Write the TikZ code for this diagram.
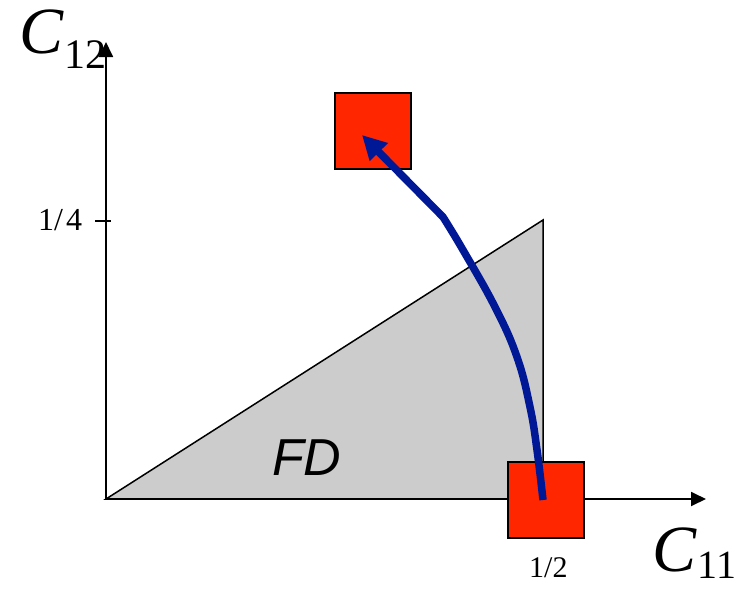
\documentclass[tikz,border=0pt]{standalone}
\usepackage{fontspec}
\setmainfont{Liberation Serif}
\newfontfamily\arialfont{Liberation Sans}
\usetikzlibrary{arrows.meta}
\definecolor{sqred}{RGB}{255,38,0}
\definecolor{pathblue}{RGB}{0,24,150}
\definecolor{fdgray}{RGB}{204,204,204}
\tikzset{
  axis/.style={line width=1.8pt,-{Triangle[length=15pt,width=14pt]}},
  sq/.style={draw=black,line width=2pt,fill=sqred,minimum width=76pt,minimum height=76pt,inner sep=0pt,outer sep=0pt},
  lbl/.style={inner sep=0pt,anchor=base west},
  move/.style={draw=pathblue,line width=7.5pt,-{Triangle[length=24pt,width=24pt]}}
}
\begin{document}
\begin{tikzpicture}[x=1pt,y=-1pt]
\useasboundingbox (0,0) rectangle (741,589);
% region FD
\coordinate (O) at (106,499);
\coordinate (A) at (543,220);
\coordinate (B) at (543,499);
\draw[fill=fdgray,line width=1.5pt,line join=miter] (O) -- (A) -- (B) -- cycle;
\node[lbl] (fd) at (272,475) {\arialfont\itshape\fontsize{52}{52}\selectfont FD};
% axes
\coordinate (xe) at (706,499);
\coordinate (ye) at (106,42);
\draw[axis] (O) -- (xe);
\draw[axis] (O) -- (ye);
% tick
\coordinate (t1) at (95,221);
\coordinate (t2) at (111,221);
\draw[line width=1.8pt] (t1) -- (t2);
\node[lbl] (q) at (38,230) {\fontsize{32}{32}\selectfont 1/\kern3pt4};
\node[lbl] (h) at (529,577) {\fontsize{30}{30}\selectfont 1/2};
% axis labels
\node[lbl] (c12) at (19,53) {\fontsize{66}{66}\selectfont\textit{C}\kern1pt\raisebox{-15pt}{\fontsize{42}{42}\selectfont 12}};
\node[lbl] (c11) at (652,571) {\fontsize{66}{66}\selectfont\textit{C}\kern1pt\raisebox{-7pt}{\fontsize{40}{40}\selectfont 11}};
% squares
\node[sq] (s1) at (546,500) {};
\node[sq] (s2) at (372.5,130.5) {};
% path
\coordinate (p0) at (543,500);
\coordinate (p1) at (537,450);
\coordinate (p2) at (530,407);
\coordinate (p3) at (517,357);
\coordinate (p4) at (495,307);
\coordinate (p5) at (463,250);
\coordinate (p6) at (443,217);
\coordinate (tip) at (362,135);
\draw[move,line join=round] plot[smooth,tension=0.7] coordinates {(p0) (p1) (p2) (p3) (p4) (p5) (p6)} -- (tip);
\end{tikzpicture}
\end{document}
